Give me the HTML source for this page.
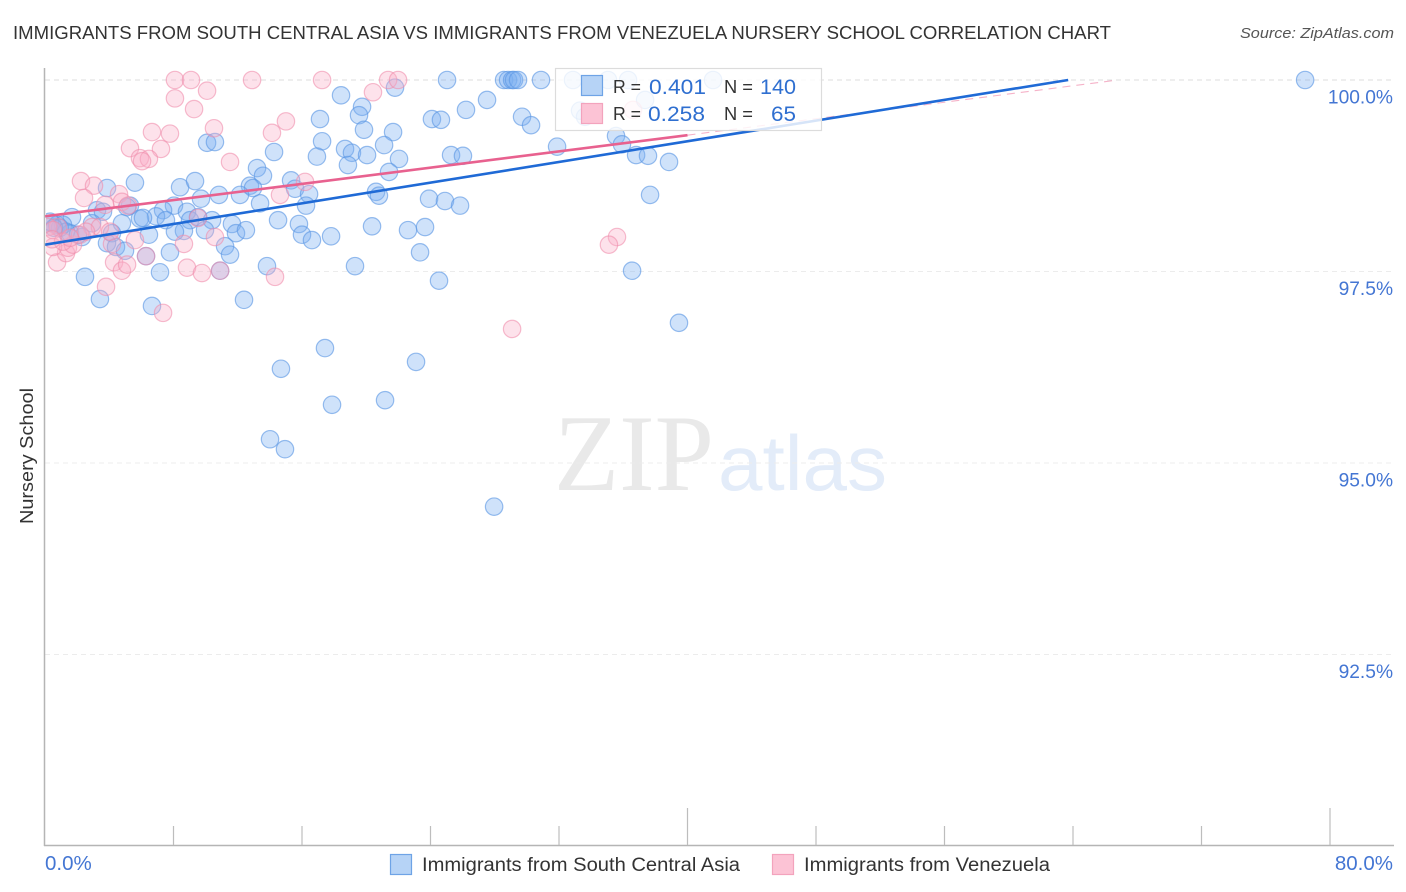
<!DOCTYPE html>
<html lang="en">
<head>
<meta charset="utf-8">
<title>Immigrants from South Central Asia vs Immigrants from Venezuela Nursery School Correlation Chart</title>
<style>
html,body{margin:0;padding:0;background:#fff;width:1406px;height:892px;overflow:hidden}
svg{display:block;font-family:"Liberation Sans",sans-serif}
</style>
</head>
<body>
<svg id="chart" xmlns="http://www.w3.org/2000/svg" width="1406" height="892" viewBox="0 0 1406 892">
  <defs>
    <clipPath id="plot-clip"><rect x="46" y="60" width="1348" height="785"/></clipPath>
  </defs>
  <rect x="0" y="0" width="1406" height="892" fill="#fff"/>
  <text x="13" y="39" font-size="18.5" fill="#333" textLength="1098" lengthAdjust="spacingAndGlyphs">IMMIGRANTS FROM SOUTH CENTRAL ASIA VS IMMIGRANTS FROM VENEZUELA NURSERY SCHOOL CORRELATION CHART</text>
  <text x="1394" y="38" font-size="15" font-style="italic" fill="#555" text-anchor="end" textLength="154" lengthAdjust="spacingAndGlyphs">Source: ZipAtlas.com</text>
  <g>
    <text x="554" y="490" font-family="'Liberation Serif',serif" font-size="109" fill="#e9e9e9" textLength="160" lengthAdjust="spacingAndGlyphs">ZIP</text>
    <text x="718" y="490" font-size="78" fill="#e3ecf9" textLength="169" lengthAdjust="spacingAndGlyphs">atlas</text>
  </g>
  <g id="grid"></g>
  <g id="points" clip-path="url(#plot-clip)"></g>
  <g id="trends"></g>
  <g id="axes"></g>
  <text transform="translate(33,456) rotate(-90)" font-size="18" fill="#333" text-anchor="middle" textLength="136" lengthAdjust="spacingAndGlyphs">Nursery School</text>
  <g>
    <rect x="555.5" y="68.5" width="266" height="62" fill="#fff" fill-opacity="0.82" stroke="#dcdcdc" stroke-width="1.2"/>
    <rect x="581.5" y="75.5" width="21" height="20" fill="#b6d3f6" stroke="#6ea3e6" stroke-width="1.2"/>
    <rect x="581.5" y="103.5" width="21" height="20" fill="#fcc3d5" stroke="#f3a3bd" stroke-width="1.2"/>
    <text x="613" y="93" font-size="18" fill="#333" textLength="28" lengthAdjust="spacingAndGlyphs">R =</text>
    <text x="649" y="94" font-size="21" fill="#2f6fd0" textLength="57" lengthAdjust="spacingAndGlyphs">0.401</text>
    <text x="724" y="93" font-size="18" fill="#333" textLength="29" lengthAdjust="spacingAndGlyphs">N =</text>
    <text x="760" y="94" font-size="21" fill="#2f6fd0" textLength="36" lengthAdjust="spacingAndGlyphs">140</text>
    <text x="613" y="120" font-size="18" fill="#333" textLength="28" lengthAdjust="spacingAndGlyphs">R =</text>
    <text x="648" y="121" font-size="21" fill="#2f6fd0" textLength="57" lengthAdjust="spacingAndGlyphs">0.258</text>
    <text x="724" y="120" font-size="18" fill="#333" textLength="29" lengthAdjust="spacingAndGlyphs">N =</text>
    <text x="771" y="121" font-size="21" fill="#2f6fd0" textLength="25" lengthAdjust="spacingAndGlyphs">65</text>
  </g>
  <g>
    <rect x="390.5" y="854.5" width="21" height="20" fill="#b6d3f6" stroke="#6ea3e6" stroke-width="1.2"/>
    <text x="422" y="871" font-size="19" fill="#333" textLength="318" lengthAdjust="spacingAndGlyphs">Immigrants from South Central Asia</text>
    <rect x="772.5" y="854.5" width="21" height="20" fill="#fcc3d5" stroke="#f3a3bd" stroke-width="1.2"/>
    <text x="804" y="871" font-size="19" fill="#333" textLength="246" lengthAdjust="spacingAndGlyphs">Immigrants from Venezuela</text>
  </g>
</svg>
<script>
var blueX = [18.43,19.74,19.55,19.86,17.12,17.25,16.93,18.68,19.11,20.05,18.86,10.09,10.58,14.26,13.20,13.57,12.76,12.95,15.32,15.57,16.44,16.25,13.39,14.51,15.81,16.00,16.62,17.81,20.61,20.79,20.36,5.60,8.41,9.34,3.86,5.29,5.11,9.71,10.83,12.14,8.03,7.35,6.91,7.53,5.91,6.10,8.84,9.03,9.53,10.40,11.64,11.89,12.51,11.21,11.52,9.96,8.65,8.09,6.47,7.78,6.29,7.16,10.90,13.82,19.30,2.49,3.42,6.66,12.39,1.68,3.24,3.61,2.93,4.79,4.17,3.86,4.42,4.98,2.30,0.44,0.75,1.12,1.56,0.31,0.93,1.31,2.05,21.79,25.03,28.58,28.83,29.08,29.20,29.45,30.88,32.87,35.05,36.30,41.59,27.52,26.21,24.09,24.65,29.70,30.26,37.36,33.31,33.62,21.67,21.11,22.04,21.42,25.28,26.02,31.88,35.55,35.92,36.80,37.54,38.85,37.67,23.91,24.90,25.84,22.60,23.66,23.35,24.53,36.55,39.47,78.45,17.43,14.69,23.10,17.87,21.17,14.01,14.94,27.96,0.56];
var blueY = [99.80,99.65,99.54,99.35,99.49,99.20,99.00,99.10,99.05,99.02,98.89,99.18,99.19,99.06,98.85,98.75,98.62,98.59,98.69,98.58,98.51,98.36,98.39,98.17,98.12,97.98,97.91,97.96,98.54,98.49,98.09,98.66,98.60,98.68,98.59,98.36,98.34,98.45,98.50,98.50,98.36,98.30,98.22,98.17,98.19,98.20,98.28,98.17,98.21,98.17,98.12,98.00,98.04,97.83,97.72,98.04,98.03,98.02,97.98,97.75,97.70,97.49,97.51,97.57,97.57,97.43,97.14,97.05,97.13,98.21,98.30,98.28,98.13,98.13,98.00,97.87,97.82,97.77,97.95,98.13,98.11,98.11,98.00,98.15,98.07,98.02,97.98,99.90,100,100,100,100,100,100,100,100,100,100,100,99.74,99.61,99.49,99.48,99.52,99.41,99.74,99.60,99.52,99.32,99.15,98.97,98.80,99.02,99.01,99.13,99.27,99.16,99.02,99.01,98.93,98.50,98.45,98.42,98.36,98.04,98.08,97.75,97.38,97.51,96.83,100,96.50,96.23,96.32,95.76,95.82,95.31,95.18,94.43,98.07];
var pinkX = [8.09,9.09,12.89,17.25,10.09,8.09,9.28,20.42,15.00,14.13,10.52,6.66,7.78,5.29,7.22,5.91,6.47,6.04,11.52,2.24,3.05,2.43,4.61,4.79,3.74,5.17,16.19,14.63,9.53,10.58,8.65,5.60,4.17,4.30,4.79,5.11,6.29,8.84,9.77,10.90,14.32,3.80,7.35,0.75,1.31,1.43,1.74,0.50,2.93,3.42,4.05,2.18,0.81,0.19,0.50,1.12,21.36,21.98,36.61,35.61,35.11,29.08,0.44,1.56,2.55];
var pinkY = [100,100,100,100,99.86,99.76,99.62,99.84,99.46,99.31,99.37,99.32,99.30,99.11,99.10,98.98,98.97,98.94,98.93,98.68,98.62,98.46,98.51,98.41,98.37,98.36,98.67,98.50,98.20,97.95,97.86,97.91,97.86,97.62,97.51,97.59,97.70,97.55,97.48,97.51,97.43,97.30,96.96,97.62,97.74,97.81,97.85,97.82,98.08,98.08,98.02,97.98,98.08,98.08,98.04,97.89,100,100,99.61,97.95,97.85,96.75,97.92,97.94,98.02];
var xTickValues = [0,8,16,24,32,40,48,56,64,72,80];
var xMajorTicks = [0,40,80];
var xTickLabels = ["0.0%","80.0%"];
var yTickValues = [100,97.5,95,92.5];
var yTickLabels = ["100.0%","97.5%","95.0%","92.5%"];
var blueTrendX = [0,63.7];
var blueTrendY = [97.85,100];
var pinkTrendX = [0,40];
var pinkTrendY = [98.22,99.28];
var pinkDashX = [40,66.8];
var pinkDashY = [99.28,100];

var NS = 'http://www.w3.org/2000/svg';
function sx(v){ return 45 + v * 1285 / 80; }
function sy(v){ return 80 + (100 - v) * 76.6; }
function make(tag, attrs, parent){
  var el = document.createElementNS(NS, tag);
  for (var k in attrs) el.setAttribute(k, attrs[k]);
  parent.appendChild(el);
  return el;
}
var grid = document.getElementById('grid');
var axes = document.getElementById('axes');
var pts = document.getElementById('points');
var trends = document.getElementById('trends');

yTickValues.forEach(function(v, i){
  var line = make('line', {x1:45, x2:1393, y1:sy(v), y2:sy(v), stroke: i === 0 ? '#dcdcdc' : '#ececec', 'stroke-width':1, 'stroke-dasharray':'5 4'}, grid);
  
  
  var label = make('text', {x:1393, y:sy(v) + 23.5, 'font-size':19.2, fill:'#4476d3', 'text-anchor':'end'}, axes);
  
  
  label.textContent = yTickLabels[i];
});

var yAxis = make('line', {x1:44.5, x2:44.5, y1:68, y2:846, stroke:'#b5b5b5', 'stroke-width':1.5}, axes);


var xAxis = make('line', {x1:44, x2:1394, y1:845.5, y2:845.5, stroke:'#b5b5b5', 'stroke-width':1.5}, axes);



xTickValues.forEach(function(v){
  if (v === 0) return;
  var major = xMajorTicks.indexOf(v) >= 0;
  var tick = make('line', {x1:sx(v), x2:sx(v), y1: major ? 808 : 826, y2:845, stroke:'#bdbdbd', 'stroke-width':1.2}, axes);
  
  
});

var xLabel0 = make('text', {x:45, y:870, 'font-size':20.5, fill:'#4476d3'}, axes);


xLabel0.textContent = xTickLabels[0];
var xLabel1 = make('text', {x:1393, y:870, 'font-size':20.5, fill:'#4476d3', 'text-anchor':'end'}, axes);


xLabel1.textContent = xTickLabels[1];

blueX.forEach(function(v, i){
  var c = make('circle', {cx:sx(v), cy:sy(blueY[i]), r:8.7, fill:'#7aaef2', 'fill-opacity':0.36, stroke:'#5a96e3', 'stroke-opacity':0.62, 'stroke-width':1.2}, pts);
  
  
});
pinkX.forEach(function(v, i){
  var c = make('circle', {cx:sx(v), cy:sy(pinkY[i]), r:8.7, fill:'#fab0c7', 'fill-opacity':0.36, stroke:'#ef8bab', 'stroke-opacity':0.58, 'stroke-width':1.2}, pts);
  
  
});

var pinkDash = make('line', {x1:sx(pinkDashX[0]), y1:sy(pinkDashY[0]), x2:sx(pinkDashX[1]), y2:sy(pinkDashY[1]), stroke:'#ee7fa3', 'stroke-width':1.1, 'stroke-dasharray':'8 6', 'stroke-opacity':0.6}, trends);


var pinkLine = make('line', {x1:sx(pinkTrendX[0]), y1:sy(pinkTrendY[0]), x2:sx(pinkTrendX[1]), y2:sy(pinkTrendY[1]), stroke:'#e8618f', 'stroke-width':2.6}, trends);


var blueLine = make('line', {x1:sx(blueTrendX[0]), y1:sy(blueTrendY[0]), x2:sx(blueTrendX[1]), y2:sy(blueTrendY[1]), stroke:'#1f6ad6', 'stroke-width':2.6}, trends);


</script>
</body>
</html>
